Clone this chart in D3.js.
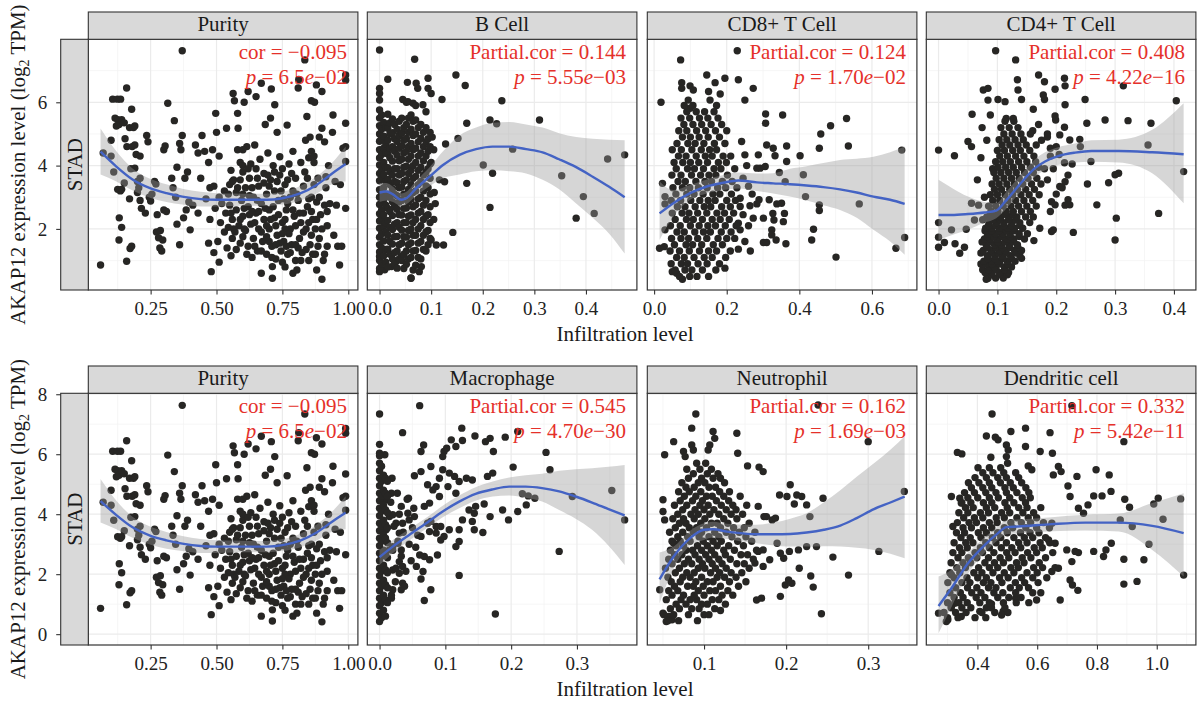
<!DOCTYPE html>
<html>
<head>
<meta charset="utf-8">
<script src="https://cdn.jsdelivr.net/npm/d3@7"></script>
<style>
body { margin: 0; background: #fff; }
</style>
</head>
<body>
<script>
// ---- data (x = infiltration level, y = AKAP12 log2 TPM) ----
var purityPts = [
[0.06,0.86],[0.07,4.4],[0.10,4.8],[0.10,4.3],[0.106,6.1],[0.124,6.1],[0.136,6.1],[0.159,6.45],
[0.115,5.5],[0.12,5.25],[0.125,5.45],[0.13,5.3],[0.14,5.45],[0.15,5.35],[0.17,5.2],[0.178,5.78],
[0.185,5.2],[0.19,5.25],[0.153,4.85],[0.16,4.6],[0.18,4.6],[0.19,4.65],[0.11,3.8],[0.125,3.25],
[0.135,3.2],[0.14,3.25],[0.15,3.45],[0.131,2.35],[0.14,2.05],[0.13,1.65],[0.159,0.98],[0.172,1.38],
[0.178,1.45],[0.17,2.95],[0.175,3.9],[0.19,3.92],[0.2,3.5],[0.205,3.3],[0.21,3.6],[0.2,3.15],
[0.195,4.35],[0.21,4.3],[0.21,2.9],[0.215,2.65],[0.23,2.5],[0.235,4.95],[0.24,4.75],[0.245,3.0],
[0.25,2.88],[0.255,3.1],[0.265,3.5],[0.27,3.42],[0.275,2.45],[0.272,1.9],[0.28,1.72],[0.285,1.4],
[0.287,1.95],[0.292,1.3],[0.296,1.65],[0.3,2.6],[0.3,4.5],[0.305,4.62],[0.31,2.55],[0.315,5.97],
[0.33,3.6],[0.335,3.3],[0.34,5.42],[0.345,3.0],[0.35,3.95],[0.35,2.15],[0.36,4.7],[0.36,1.5],
[0.365,4.5],[0.37,4.95],[0.37,7.63],[0.375,2.35],[0.38,3.6],[0.385,2.6],[0.39,3.8],[0.395,2.85],
[0.4,1.97],[0.41,2.75],[0.42,4.65],[0.43,4.4],[0.43,2.5],[0.44,3.6],[0.445,4.95],[0.455,4.45],
[0.46,2.95],[0.47,4.1],[0.47,1.55],[0.475,2.3],[0.475,3.3],[0.48,0.65],[0.485,4.5],[0.49,3.35],
[0.49,1.25],[0.495,2.65],[0.497,5.65],[0.5,5.05],[0.505,1.6],[0.51,0.95],[0.51,4.3],[0.51,3.0],
[0.515,2.2],[0.52,2.8],
[0.53,1.9],[0.53,3.2],[0.535,2.5],[0.538,5.18],[0.54,1.4],[0.545,2.05],[0.55,3.4],[0.55,2.75],
[0.555,1.15],[0.563,6.28],[0.56,2.3],[0.56,1.7],[0.565,3.55],[0.568,6.05],[0.57,1.9],[0.575,2.6],
[0.575,3.15],[0.58,5.65],[0.582,5.18],[0.58,4.5],[0.585,2.1],[0.59,4.1],[0.59,1.55],[0.595,2.9],
[0.6,3.8],[0.6,2.4],[0.6,1.75],[0.605,6.0],[0.61,3.3],[0.61,1.95],[0.615,4.6],[0.62,6.34],
[0.62,2.7],[0.62,1.45],[0.625,3.6],[0.63,2.15],[0.63,4.05],[0.635,1.1],[0.64,3.0],[0.64,1.7],
[0.645,4.65],[0.65,6.18],[0.65,2.5],[0.65,3.9],[0.655,1.3],[0.66,2.0],[0.66,3.35],[0.665,4.2],
[0.67,0.6],[0.67,6.6],[0.67,2.8],[0.675,1.6],[0.68,3.75],[0.68,2.3],[0.685,5.3],[0.69,1.2],
[0.69,3.1],[0.695,4.4],[0.7,2.0],[0.7,2.6],[0.705,5.5],[0.705,3.55],[0.712,0.44],[0.712,0.81],
[0.708,6.42],[0.71,1.45],[0.715,4.0],[0.721,5.92],[0.72,2.35],[0.72,3.2],[0.725,1.05],[0.73,5.05],
[0.73,1.8],[0.735,2.9],[0.74,4.28],[0.74,3.7],[0.745,1.3],[0.75,0.95],[0.75,2.2],[0.75,3.9],
[0.755,1.6],[0.76,0.8],[0.76,3.4],[0.768,5.28],[0.765,2.6],[0.77,1.2],[0.775,4.05],[0.78,2.0],
[0.78,3.0],[0.785,1.5],[0.79,0.6],[0.79,4.45],[0.795,2.4],[0.8,1.0],[0.8,3.6],[0.81,6.45],
[0.805,0.7],[0.812,6.72],[0.81,2.9],[0.815,1.7],[0.82,2.2],[0.82,4.1],[0.825,1.25],[0.83,3.35],
[0.835,7.34],[0.838,4.8],[0.84,2.0],[0.843,5.55],[0.845,2.7],[0.85,1.0],[0.85,4.25],[0.855,1.5],
[0.86,6.05],[0.86,3.0],[0.865,2.3],[0.872,6.0],[0.87,4.1],[0.879,6.55],[0.875,1.2],[0.88,2.85],
[0.88,0.7],[0.885,3.6],[0.89,1.7],[0.89,4.9],[0.895,2.45],[0.9,6.34],[0.9,5.18],[0.9,0.41],
[0.905,1.0],[0.91,4.75],[0.91,2.75],[0.915,3.3],[0.92,1.45],[0.92,2.1],[0.925,4.0],[0.93,2.8],
[0.942,5.6],[0.94,5.05],[0.945,1.8],[0.95,3.5],[0.955,2.75],[0.96,1.45],[0.967,0.86],[0.97,3.4],
[0.975,1.45],[0.98,4.55],[0.99,6.86],[0.99,6.7],[0.99,5.34],[0.99,4.6],[0.99,4.13],[0.99,2.65],
[0.86,4.45],[0.87,4.3],[0.855,4.9],[0.6,4.5],[0.6,4.0],[0.56,3.5],
[0.545,3.1],[0.555,2.5],[0.58,3.3],[0.59,2.3],[0.6,3.1],[0.605,2.0],[0.62,3.9],[0.625,2.45],
[0.635,3.3],[0.645,2.2],[0.655,2.9],[0.67,1.9],[0.68,3.45],[0.69,2.1],[0.695,3.7],[0.7,1.6],
[0.715,2.7],[0.725,2.1],[0.73,3.5],[0.74,1.55],[0.755,2.95],[0.76,2.0],[0.77,3.55],[0.775,1.85],
[0.79,3.2],[0.8,2.1],[0.81,1.4],[0.83,2.5],[0.845,3.6],[0.85,2.2],[0.86,1.8],[0.875,2.0],
[0.555,3.85],[0.565,2.0],[0.575,1.35],[0.59,3.55],[0.605,2.65],[0.615,1.2],[0.625,3.05],[0.635,2.55],
[0.645,1.45],[0.655,3.6],[0.66,2.55],[0.67,1.3],[0.685,2.65],[0.69,1.75],[0.7,3.35],[0.705,2.3],
[0.71,1.1],[0.72,3.8],[0.725,1.5],[0.735,2.45],[0.745,3.2],[0.75,1.85],[0.76,2.3],[0.765,1.45],
[0.77,2.8],[0.78,1.25],[0.785,3.75],[0.79,2.6],[0.8,1.5],[0.805,3.1],[0.815,2.5],[0.82,1.0],
[0.83,1.9],[0.835,3.8],[0.84,1.35],[0.85,2.95],[0.86,2.55],[0.865,1.2],[0.87,3.4],[0.88,2.3],
[0.885,1.45],[0.89,3.0],[0.9,2.0],[0.91,1.2],[0.915,3.65],[0.92,2.55]
];

var bcellPts = [
[0,7.65],[0.068,7.36],[0.016,6.73],[0.054,6.63],[0.071,6.6],[0.074,6.44],[0.094,6.76],[0.094,6.44],
[0.1,6.28],[0,6.44],[0,6.28],[0,6.07],[0.045,6.09],[0.055,6.02],[0.065,5.97],[0.084,5.92],
[0.121,6.09],[0.148,6.86],[0.166,6.53],[0.237,6.05],[0.214,5.44],[0.227,5.32],[0.31,5.44],[0.169,5.34],
[0.152,4.86],[0.128,4.68],[0.258,4.52],[0.201,4.02],[0.219,3.76],[0.169,3.44],[0.126,3.49],[0.116,3.55],
[0.106,3.15],[0.442,4.21],[0.475,4.34],[0.353,3.68],[0.395,3.02],[0.214,2.68],[0.381,2.34],[0.416,2.49],
[0.142,1.89],[0.124,1.49],[0.11,1.49],[0.1,1.65],[0.081,0.81],[0.077,0.65],[0.061,0.44],[0,0.65],
[0.01,0.71],[0.023,0.81],[0,1.13],[0.042,1.13],[0.032,0.97],[0.102,4.9],[0.105,4.5],[0.1,4.1],
[0.108,2.8],[0.105,2.3]
];
// dense column near zero, as [x, [y values]]
var bcellDense = [
[0,[0.75,1.0,1.27,1.5,1.74,2.02,2.25,2.48,2.77,3.0,3.24,3.52,3.75,4.02,4.24,4.5,4.77,5.0,5.26,5.5,5.76]],
[0.004,[0.9,1.4,1.85,2.35,2.6,3.15,3.6,3.85,4.35,4.85,5.15,5.6]],
[0.008,[1.15,1.62,2.08,2.45,2.92,3.3,3.72,4.1,4.55,4.93,5.36]],
[0.012,[0.95,1.35,1.9,2.2,2.75,3.05,3.5,3.95,4.4,4.7,5.2]],
[0.016,[0.8,1.36,1.8,2.27,2.65,3.1,3.56,3.93,4.37,4.8,5.18,5.62]],
[0.02,[1.2,1.6,2.05,2.55,3.0,3.4,3.8,4.25,4.55,5.0,5.35]],
[0.025,[1.05,1.52,1.98,2.42,2.86,3.27,3.7,4.14,4.6,5.04,5.47]],
[0.029,[0.9,1.25,1.75,2.15,2.7,3.1,3.5,3.9,4.45,4.85,5.3]],
[0.034,[0.76,1.3,1.76,2.2,2.62,3.05,3.46,3.9,4.33,4.76,5.15]],
[0.038,[1.05,1.5,2.05,2.45,2.85,3.3,3.7,4.15,4.55,4.95,5.4]],
[0.043,[1.0,1.55,1.96,2.44,2.9,3.32,3.75,4.2,4.62,5.02,5.5]],
[0.047,[0.75,1.2,1.75,2.2,2.65,3.1,3.5,3.95,4.4,4.8,5.2]],
[0.052,[0.88,1.3,1.74,2.2,2.66,3.1,3.55,3.98,4.45,4.86,5.3,6.0]],
[0.056,[1.05,1.5,1.95,2.4,2.85,3.25,3.75,4.2,4.6,5.05,5.5]],
[0.061,[0.45,1.1,1.56,2.0,2.44,2.94,3.4,3.85,4.3,4.7,5.15,5.6]],
[0.065,[0.7,1.3,1.8,2.2,2.7,3.15,3.6,4.0,4.5,4.95,5.4]],
[0.07,[0.85,1.32,1.8,2.3,2.76,3.2,3.66,4.1,4.55,5.0,5.44,5.9]],
[0.075,[1.1,1.55,2.0,2.5,2.95,3.4,3.85,4.3,4.75,5.2]],
[0.08,[1.05,1.6,2.1,2.55,3.0,3.5,3.95,4.4,4.86,5.3]],
[0.085,[1.35,1.8,2.3,2.75,3.2,3.7,4.15,4.6,5.05]],
[0.09,[1.3,1.9,2.4,2.9,3.36,3.8,4.3,4.75,5.2,5.7]],
[0.094,[1.5,1.95,2.45,3.3,3.9,4.45,4.85]],
[0.098,[1.7,2.2,2.7,3.1,3.6,4.05,4.6,5.05]]
];

var cd8Pts = [
[0.229,7.63],[0.073,7.34],[0.019,6.0],[0.145,6.86],[0.168,6.62],[0.195,6.76],[0.232,6.71],[0.273,6.44],
[0.076,6.62],[0.076,6.44],[0.099,6.52],[0.108,6.39],[0.182,6.26],[0.15,6.34],[0.154,6.07],[0.25,6.07],
[0.094,6.07],[0.099,5.81],[0.307,5.63],[0.307,5.34],[0.354,5.6],[0.53,5.49],[0.486,5.26],[0.459,5.0],
[0.535,4.62],[0.455,4.55],[0.682,4.49],[0.402,4.31],[0.365,4.62],[0.365,4.13],[0.31,4.65],[0.328,4.55],
[0.333,4.31],[0.287,4.34],[0.25,4.34],[0.241,4.76],[0.283,3.92],[0.292,3.92],[0.306,3.97],[0.345,3.78],
[0.411,3.71],[0.361,3.49],[0.417,3.02],[0.565,2.79],[0.455,2.76],[0.455,2.58],[0.237,2.97],[0.237,2.71],
[0.264,2.73],[0.283,2.79],[0.289,2.92],[0.317,2.92],[0.338,2.79],[0.351,2.81],[0.327,2.49],[0.359,2.49],
[0.273,2.34],[0.301,2.34],[0.33,2.28],[0.324,1.97],[0.356,2.23],[0.232,2.18],[0.237,1.97],[0.439,1.99],
[0.434,1.65],[0.324,1.81],[0.336,1.65],[0.301,1.57],[0.31,1.57],[0.363,1.53],[0.501,1.11],[0.666,1.39],
[0.69,1.73],[0.195,0.76],[0.232,1.36],[0.078,0.41],[0.05,0.65],[0.062,0.6],[0.015,1.39],[0.028,1.44],
[0.023,3.44],[0.03,3.02],[0.03,2.79],[0.03,1.97],
[0.245,3.6],[0.26,3.35],[0.255,4.0],[0.27,3.1],[0.245,2.45],[0.26,2.1],[0.25,1.6],[0.265,1.3]
];
// dense cloud, as [y, [x values]]
var cd8Dense = [
[0.5,[0.07,0.098,0.118,0.15]],
[0.7,[0.058,0.085,0.104,0.133,0.17]],
[0.9,[0.047,0.075,0.092,0.121,0.146,0.18]],
[1.1,[0.062,0.083,0.11,0.138,0.16,0.197]],
[1.3,[0.044,0.07,0.097,0.125,0.15,0.172,0.21]],
[1.5,[0.056,0.088,0.106,0.131,0.163,0.188]],
[1.7,[0.048,0.074,0.095,0.12,0.145,0.176,0.2,0.222]],
[1.9,[0.063,0.083,0.112,0.136,0.155,0.185,0.212]],
[2.1,[0.045,0.072,0.1,0.124,0.148,0.169,0.196,0.226]],
[2.3,[0.058,0.089,0.108,0.133,0.16,0.182,0.207]],
[2.5,[0.05,0.077,0.096,0.12,0.145,0.173,0.194,0.219]],
[2.7,[0.064,0.085,0.113,0.138,0.156,0.186,0.21]],
[2.9,[0.047,0.073,0.101,0.126,0.149,0.168,0.2,0.224]],
[3.1,[0.06,0.09,0.11,0.135,0.162,0.181,0.213]],
[3.3,[0.052,0.078,0.098,0.122,0.146,0.175,0.197,0.228]],
[3.5,[0.066,0.086,0.115,0.14,0.158,0.188,0.215]],
[3.7,[0.049,0.074,0.103,0.128,0.151,0.17,0.202]],
[3.9,[0.061,0.092,0.111,0.136,0.165,0.184,0.222]],
[4.1,[0.055,0.079,0.1,0.123,0.147,0.177,0.199]],
[4.3,[0.067,0.088,0.116,0.141,0.16,0.19,0.211]],
[4.5,[0.05,0.075,0.104,0.13,0.153,0.172]],
[4.7,[0.063,0.093,0.113,0.137,0.166,0.195]],
[4.9,[0.078,0.1,0.124,0.149,0.18]],
[5.1,[0.068,0.09,0.117,0.142,0.169,0.2]],
[5.3,[0.082,0.107,0.131,0.157,0.186]],
[5.5,[0.074,0.098,0.125,0.148,0.176]],
[5.7,[0.09,0.116,0.139,0.165]],
[5.9,[0.083,0.107,0.172]]
];

var cd4Pts = [
[0.097,7.63],[0.131,7.34],[0,4.49],[0.027,4.31],[0,2.2],[0,1.74],[0,1.42],[0.01,1.57],
[0.022,1.97],[0.028,1.53],[0.036,1.23],[0.044,1.42],[0.047,1.99],[0.061,2.28],[0.056,2.81],[0.05,4.76],
[0.056,4.6],[0.057,5.62],[0.076,6.39],[0.084,6.44],[0.084,6.07],[0.101,6.09],[0.113,6.02],[0.134,6.71],
[0.135,6.39],[0.141,6.09],[0.115,5.49],[0.127,5.49],[0.161,5.78],[0.17,6.86],[0.18,6.65],[0.178,6.23],
[0.18,6.09],[0.198,6.41],[0.214,6.76],[0.215,6.52],[0.198,5.57],[0.199,5.44],[0.215,5.92],[0.249,6.09],
[0.252,5.34],[0.283,5.44],[0.322,5.42],[0.314,6.52],[0.361,5.34],[0.356,4.65],[0.404,6.05],[0.4165,3.81],
[0.214,5.21],[0.206,4.97],[0.223,4.81],[0.24,4.83],[0.241,4.6],[0.214,4.09],[0.227,4.05],[0.259,4.13],
[0.306,3.76],[0.3,3.71],[0.289,3.46],[0.253,3.42],[0.269,2.76],[0.302,2.34],[0.3,1.65],[0.374,2.49],
[0.229,1.89],[0.192,1.92],[0.195,1.97],[0.22,2.92],[0.223,2.76],[0.206,3.34],[0.215,3.49],[0.192,2.86],
[0.198,2.76],[0.162,1.63],[0.172,2.02],[0.141,1.07],[0.114,0.6],[0.081,0.41],[0.084,0.44],
[0.16,5.1],[0.17,5.3],[0.175,4.8],[0.185,5.0],[0.19,4.3],[0.2,4.6],[0.18,3.9],
[0.185,3.55],[0.19,2.55],[0.2,3.1],[0.205,4.35],[0.19,4.55],[0.215,2.75],[0.22,3.7],[0.185,4.9],
[0.195,3.9],[0.21,3.3],
[0.066,3.55],[0.072,4.25],[0.078,3.0],[0.068,2.75],[0.082,4.8],[0.074,5.2],[0.088,5.6],[0.092,3.9]
];
var cd4Dense = [
[0.45,[0.083,0.097,0.11]],
[0.55,[0.09,0.104,0.117]],
[0.62,[0.079,0.091,0.104,0.119]],
[0.71,[0.075,0.085,0.098,0.112]],
[0.8,[0.086,0.095,0.112,0.124]],
[0.89,[0.072,0.081,0.091,0.104,0.118]],
[0.98,[0.077,0.09,0.101,0.117,0.13]],
[1.06,[0.084,0.096,0.11,0.124]],
[1.15,[0.083,0.096,0.108,0.122,0.138]],
[1.24,[0.072,0.09,0.102,0.115,0.131]],
[1.32,[0.076,0.089,0.103,0.113,0.129,0.141]],
[1.41,[0.083,0.097,0.108,0.121,0.135]],
[1.5,[0.081,0.095,0.107,0.12,0.134]],
[1.59,[0.074,0.088,0.101,0.113,0.127]],
[1.68,[0.078,0.088,0.1,0.116,0.128,0.146]],
[1.76,[0.083,0.094,0.108,0.122,0.137]],
[1.85,[0.084,0.097,0.109,0.121,0.137,0.151]],
[1.94,[0.079,0.09,0.103,0.115,0.129]],
[2.02,[0.08,0.091,0.104,0.118,0.129,0.143]],
[2.11,[0.085,0.097,0.111,0.124,0.138]],
[2.2,[0.086,0.099,0.111,0.125,0.138,0.155]],
[2.29,[0.075,0.093,0.105,0.119,0.131]],
[2.38,[0.082,0.094,0.106,0.12,0.133,0.148,0.161]],
[2.46,[0.088,0.1,0.113,0.126]],
[2.55,[0.089,0.101,0.115,0.127,0.141,0.156]],
[2.72,[0.085,0.097,0.11,0.123,0.136,0.15,0.166]],
[2.9,[0.092,0.104,0.118,0.131,0.145,0.16]],
[3.08,[0.088,0.1,0.113,0.126,0.14,0.154,0.171]],
[3.25,[0.095,0.107,0.121,0.134,0.148,0.163]],
[3.42,[0.091,0.103,0.116,0.129,0.143,0.158,0.174]],
[3.6,[0.098,0.111,0.124,0.137,0.152,0.167]],
[3.78,[0.094,0.106,0.119,0.132,0.146,0.161]],
[3.95,[0.101,0.114,0.127,0.141,0.156,0.17]],
[4.12,[0.097,0.109,0.122,0.136,0.15,0.165]],
[4.3,[0.104,0.117,0.131,0.145,0.162]],
[4.48,[0.1,0.112,0.126,0.139,0.155]],
[4.65,[0.108,0.121,0.135,0.149,0.166]],
[4.82,[0.103,0.116,0.13,0.144]],
[5.0,[0.111,0.125,0.14,0.156]],
[5.2,[0.106,0.12,0.135]],
[5.4,[0.113,0.128]]
];

var macroPts = [
[0.061,7.62],[0,7.34],[0.035,6.72],[0.008,5.98],[0.125,6.87],[0.109,6.48],[0.116,6.26],[0.126,6.46],
[0.145,6.61],[0.161,6.42],[0.168,6.53],[0.191,6.57],[0.21,6.76],[0.173,6.09],[0.253,6.06],[0.259,5.48],
[0.203,5.57],[0.172,5.37],[0.164,5.26],[0.067,6.31],[0.063,6.09],[0.098,6.09],[0.096,5.92],[0.102,6.2],
[0.053,5.28],[0.063,5.42],[0.078,5.59],[0.019,5.2],[0.044,4.53],[0.091,5.2],[0.096,5.48],[0.106,5.37],
[0.114,5.26],[0.121,5.09],[0.132,5.2],[0.141,5.14],[0.086,4.92],[0.104,4.92],[0.073,4.98],[0.081,4.81],
[0.068,4.26],[0.076,4.37],[0.091,4.59],[0.116,4.7],[0.159,4.34],[0.146,4.26],[0.144,4.03],[0.136,4.14],
[0.187,4.14],[0.168,3.92],[0.196,3.81],[0.21,4.09],[0.223,4.31],[0.217,4.68],[0.226,4.61],[0.236,4.53],
[0.293,4.59],[0.353,4.79],[0.3725,3.81],[0.273,2.76],[0.176,0.67],[0.121,1.96],[0.157,3.39],[0.141,3.76],
[0.144,3.48],[0.126,3.81],[0.121,3.48],[0.116,2.92],[0.121,3.09],[0.093,3.14],[0.098,3.26],[0.086,3.59],
[0.093,3.59],[0.106,3.48],[0.063,3.26],[0.076,3.42],[0.086,3.37],[0.073,3.7],[0.078,3.76],[0.053,3.92],
[0.033,4.26],[0.043,4.03],[0.035,3.7],[0.045,3.81],[0.061,2.64],[0.068,2.59],[0.076,2.48],[0.088,2.64],
[0.056,2.26],[0.066,2.09],[0.063,1.84],[0.078,1.48],[0.068,1.12],[0.03,2.42],[0.035,2.26],[0.02,2.14],
[0.03,2.03],[0.035,1.7],[0.033,1.48],[0.02,1.48],[0.018,1.2],[0.008,2.7],[0.015,2.81],[0.02,3.98],
[0.025,3.7],[0.03,3.37],[0.028,3.03],[0.033,2.81],[0.02,2.92],[0.01,4.48],[0.018,4.7],[0.015,3.92],
[0.01,3.48],
[0.018,1.3],[0.02,2.8],[0.022,3.6],[0.017,4.4],[0.025,2.2],[0.028,3.1],[0.03,4.0],[0.024,1.75],
[0.027,4.7],[0.033,2.6],[0.036,3.4],[0.04,2.1],[0.038,1.6],[0.045,3.0],[0.048,2.45],[0.042,4.5],
[0.05,3.55],[0.055,2.9],[0.052,4.2],[0.058,3.3],[0,6.33],[0,6.03]
];
// dense column at zero, as [x, [y values]]
var macroDense = [
[0,[0.42,0.7,0.95,1.2,1.45,1.7,1.95,2.2,2.45,2.7,2.95,3.2,3.45,3.7,3.95,4.2,4.45,4.7,4.95,5.2,5.45,5.7,5.95]],
[0.003,[0.55,1.05,1.6,2.1,2.6,3.1,3.6,4.1,4.6,5.1,5.6]],
[0.006,[0.8,1.3,1.8,2.3,2.8,3.3,3.8,4.3,4.8,5.3]],
[0.009,[0.6,1.15,1.65,2.15,2.65,3.2,3.65,4.15,4.7,5.2]],
[0.012,[1.05,1.55,2.05,2.55,3.05,3.55,4.05,4.6,5.1]]
];

var neutroPts = [
[0.09,7.34],[0.239,7.64],[0.3,6.42],[0.085,6.87],[0.063,6.42],[0.052,5.98],[0.075,6.09],[0.077,5.92],
[0.085,6.31],[0.087,6.14],[0.111,6.76],[0.113,6.53],[0.107,6.31],[0.105,6.14],[0.14,6.7],[0.141,6.03],
[0.153,5.61],[0.167,5.57],[0.172,5.42],[0.205,4.98],[0.192,4.64],[0.201,4.59],[0.213,4.64],[0.219,4.59],
[0.21,4.34],[0.225,4.31],[0.245,4.53],[0.229,3.92],[0.344,4.76],[0.313,2.76],[0.257,2.57],[0.276,1.97],
[0.243,0.68],[0.233,1.57],[0.23,1.94],[0.216,2.2],[0.207,1.7],[0.199,1.64],[0.203,1.81],[0.193,1.26],
[0.164,1.14],[0.17,1.2],[0.12,0.79],[0.225,2.92],[0.237,2.92],[0.215,2.81],[0.204,2.76],[0.197,2.53],
[0.189,3.03],[0.193,2.7],[0.18,2.48],[0.183,3.81],[0.187,3.87],[0.173,3.92],[0.176,3.92],[0.166,4.26],
[0.172,2.81],[0.166,2.76],[0.162,2.37],[0.172,2.26],[0.046,1.48],[0.05,0.7],[0.057,0.59],[0.061,0.48],
[0.054,0.42],[0.05,4.48],[0.05,4.09],[0.052,3.81],[0.063,3.03]
];
// dense cloud, as [y, [x values]]
var neutroDense = [
[0.45,[0.056,0.069,0.092]],
[0.65,[0.051,0.063,0.081,0.1,0.106]],
[0.85,[0.059,0.07,0.085,0.094,0.113]],
[1.0,[0.066,0.078,0.097,0.104,0.126]],
[1.15,[0.054,0.072,0.083,0.091,0.11,0.118]],
[1.3,[0.061,0.075,0.088,0.1,0.122,0.135]],
[1.45,[0.057,0.068,0.093,0.107,0.114,0.129]],
[1.6,[0.064,0.08,0.087,0.099,0.12,0.142]],
[1.75,[0.06,0.071,0.09,0.104,0.111,0.131,0.151]],
[1.9,[0.056,0.074,0.083,0.097,0.116,0.125,0.139]],
[2.05,[0.065,0.079,0.088,0.108,0.119,0.133,0.146]],
[2.2,[0.053,0.07,0.093,0.101,0.114,0.127,0.155]],
[2.35,[0.061,0.076,0.085,0.098,0.11,0.122,0.14,0.149]],
[2.5,[0.057,0.068,0.081,0.094,0.106,0.118,0.132,0.16]],
[2.65,[0.064,0.073,0.089,0.102,0.113,0.126,0.145,0.153]],
[2.8,[0.059,0.078,0.086,0.097,0.109,0.124,0.137,0.164]],
[2.95,[0.066,0.075,0.092,0.104,0.116,0.13,0.148]],
[3.1,[0.061,0.071,0.083,0.099,0.111,0.121,0.141,0.158]],
[3.25,[0.068,0.08,0.094,0.106,0.118,0.134,0.151]],
[3.4,[0.058,0.074,0.087,0.097,0.113,0.127,0.143,0.162]],
[3.55,[0.065,0.082,0.091,0.103,0.12,0.136,0.149]],
[3.7,[0.07,0.078,0.096,0.109,0.116,0.129,0.155]],
[3.85,[0.062,0.075,0.088,0.101,0.124,0.14]],
[4.0,[0.068,0.084,0.093,0.107,0.118,0.133,0.147]],
[4.15,[0.074,0.089,0.1,0.112,0.127,0.139]],
[4.3,[0.064,0.079,0.095,0.105,0.121,0.135,0.152]],
[4.45,[0.071,0.086,0.098,0.115,0.13]],
[4.6,[0.076,0.09,0.103,0.11,0.124,0.144]],
[4.75,[0.069,0.082,0.096,0.119,0.131]],
[4.9,[0.078,0.088,0.106,0.114]],
[5.05,[0.073,0.093,0.101,0.125]],
[5.2,[0.081,0.097,0.111,0.12]],
[5.35,[0.087,0.104,0.117]],
[5.5,[0.079,0.095,0.109]],
[5.7,[0.091,0.102]]
];

var dendPts = [
[0.449,7.34],[0.716,7.62],[0.89,6.42],[0.561,6.87],[0.512,6.76],[0.43,6.61],[0.46,6.57],[0.469,6.48],
[0.643,6.72],[0.333,6.06],[0.348,6.01],[0.561,6.26],[0.61,6.09],[0.651,6.03],[0.497,6.31],[0.503,6.14],
[0.497,5.92],[0.445,5.9],[0.501,5.7],[0.57,5.61],[0.582,5.48],[0.671,5.59],[0.68,5.42],[0.654,5.31],
[0.733,5.26],[0.797,5.48],[0.841,5.31],[0.703,4.94],[0.847,4.76],[0.789,4.61],[0.817,4.61],[0.71,4.59],
[0.893,4.5],[0.909,4.23],[1.005,4.53],[0.99,4.34],[1.08,4.51],[1.021,3.83],[0.918,3.59],[0.974,3.0],
[0.878,3.81],[1.09,1.97],[0.934,1.76],[0.89,1.67],[0.957,2.48],[0.89,2.5],[0.848,3.03],[0.83,2.81],
[0.822,2.59],[0.789,2.76],[0.77,4.31],[0.738,4.2],[0.755,4.03],[0.738,2.72],[0.736,1.46],[0.718,1.64],
[0.71,1.81],[0.677,1.14],[0.598,1.14],[0.528,1.2],[0.486,0.76],[0.481,0.64],[0.447,1.01],[0.408,0.76],
[0.346,0.59],[0.301,0.48],[0.296,0.42],[0.27,0.7],[0.313,0.92],[0.324,1.03],[0.313,4.59],[0.341,4.53],
[0.346,4.37],[0.318,3.59],[0.313,1.98],[0.699,2.81],[0.727,2.76],[0.716,2.42],[0.671,2.2],[0.649,2.09],
[0.649,3.7],[0.638,3.14],[0.66,3.03]
];
var dendDense = [
[0.55,[0.3,0.335,0.392,0.428]],
[0.72,[0.288,0.327,0.362,0.415,0.458,0.502]],
[0.88,[0.312,0.348,0.378,0.43,0.447,0.492]],
[1.05,[0.3,0.338,0.366,0.408,0.44,0.487,0.53,0.572]],
[1.22,[0.322,0.352,0.396,0.425,0.468,0.505,0.546]],
[1.38,[0.308,0.343,0.381,0.412,0.455,0.485,0.528,0.585,0.612]],
[1.55,[0.327,0.367,0.398,0.437,0.462,0.51,0.54,0.571]],
[1.72,[0.301,0.348,0.375,0.42,0.445,0.482,0.527,0.558,0.603]],
[1.88,[0.322,0.365,0.401,0.43,0.474,0.503,0.548,0.585,0.632]],
[2.05,[0.308,0.341,0.388,0.415,0.452,0.49,0.522,0.566,0.6]],
[2.22,[0.331,0.36,0.404,0.44,0.468,0.512,0.537,0.588,0.618,0.66]],
[2.38,[0.312,0.352,0.377,0.425,0.457,0.487,0.531,0.556,0.607]],
[2.55,[0.335,0.37,0.398,0.437,0.476,0.505,0.55,0.579,0.628]],
[2.72,[0.318,0.348,0.392,0.417,0.455,0.498,0.526,0.568,0.598,0.652]],
[2.88,[0.34,0.366,0.41,0.44,0.48,0.515,0.545,0.59,0.617]],
[3.05,[0.322,0.361,0.385,0.428,0.462,0.497,0.538,0.566,0.61,0.642]],
[3.22,[0.345,0.376,0.412,0.45,0.478,0.522,0.557,0.585,0.628]],
[3.38,[0.33,0.357,0.403,0.43,0.468,0.5,0.544,0.576,0.606]],
[3.55,[0.352,0.38,0.42,0.448,0.49,0.518,0.562,0.598,0.641]],
[3.72,[0.333,0.372,0.397,0.44,0.466,0.512,0.547,0.578,0.621]],
[3.88,[0.354,0.39,0.418,0.463,0.49,0.532,0.57,0.598]],
[4.05,[0.338,0.368,0.41,0.437,0.481,0.508,0.552,0.588]],
[4.22,[0.36,0.386,0.43,0.458,0.5,0.538,0.566,0.612]],
[4.38,[0.348,0.378,0.42,0.448,0.492,0.522,0.561]],
[4.55,[0.368,0.401,0.44,0.47,0.508,0.55,0.577]],
[4.72,[0.357,0.39,0.428,0.462,0.497,0.532,0.572]],
[4.88,[0.38,0.418,0.448,0.492,0.52,0.562]],
[5.05,[0.37,0.405,0.44,0.477,0.51,0.548]],
[5.22,[0.392,0.43,0.468,0.497,0.538]],
[5.38,[0.418,0.452,0.488,0.528]],
[5.55,[0.402,0.44,0.478]]
];

// loess fit: [x, fit, lower, upper]
var purityFit = [[0.06,4.44,3.72,5.17],[0.12,3.97,3.5,4.45],[0.18,3.57,3.22,3.92],[0.25,3.28,2.98,3.58],
  [0.31,3.13,2.85,3.41],[0.37,3.02,2.77,3.27],[0.44,2.94,2.71,3.17],[0.5,2.92,2.71,3.13],[0.56,2.92,2.72,3.12],
  [0.63,2.92,2.73,3.11],[0.69,2.92,2.73,3.11],[0.75,2.97,2.77,3.17],[0.82,3.13,2.9,3.36],[0.88,3.39,3.12,3.66],
  [0.94,3.76,3.42,4.1],[0.99,4.05,3.5,4.6]];
var bcellFit = [[0,3.15,2.85,3.45],[0.013,3.18,2.9,3.45],[0.026,3.09,2.85,3.33],[0.042,2.92,2.72,3.12],
  [0.052,2.97,2.78,3.17],[0.071,3.28,3.05,3.52],[0.097,3.65,3.35,3.95],[0.123,4.02,3.6,4.45],[0.155,4.34,3.72,4.95],
  [0.187,4.52,3.82,5.2],[0.219,4.6,3.85,5.35],[0.252,4.6,3.82,5.38],[0.284,4.52,3.75,5.3],[0.316,4.42,3.55,5.2],
  [0.348,4.2,3.25,5.02],[0.381,3.95,2.8,4.9],[0.413,3.65,2.35,4.85],[0.445,3.33,1.85,4.82],[0.475,3.0,1.22,4.8]];
var cd8Fit = [[0.015,2.49,1.65,3.5],[0.053,2.81,2.39,3.23],[0.099,3.13,2.92,3.39],[0.145,3.34,3.12,3.56],
  [0.191,3.46,3.23,3.7],[0.232,3.53,3.28,3.78],[0.283,3.47,3.2,3.75],[0.328,3.44,3.12,3.76],[0.374,3.41,3.02,3.9],
  [0.42,3.37,2.9,3.98],[0.466,3.32,2.75,4.08],[0.512,3.25,2.6,4.18],[0.558,3.15,2.35,4.22],[0.604,3.02,1.97,4.28],
  [0.65,2.92,1.6,4.42],[0.69,2.79,1.18,4.6]];
var cd4Fit = [[0,2.44,1.65,3.55],[0.022,2.44,1.8,3.3],[0.05,2.47,1.97,3.02],[0.078,2.52,2.2,2.85],
  [0.098,2.58,2.34,2.81],[0.113,2.86,2.6,3.12],[0.13,3.23,2.98,3.5],[0.147,3.6,3.33,3.87],[0.164,3.92,3.65,4.2],
  [0.181,4.13,3.85,4.42],[0.203,4.3,4.02,4.58],[0.232,4.41,4.1,4.7],[0.26,4.46,4.12,4.8],[0.306,4.46,4.1,4.82],
  [0.363,4.42,3.76,5.13],[0.4165,4.36,2.81,5.97]];
var macroFit = [[0,2.57,2.31,2.81],[0.02,2.92,2.7,3.14],[0.045,3.31,3.12,3.5],[0.071,3.7,3.52,3.88],
  [0.096,4.09,3.9,4.28],[0.121,4.42,4.2,4.62],[0.146,4.68,4.45,4.9],[0.172,4.83,4.59,5.09],[0.197,4.92,4.62,5.22],
  [0.222,4.92,4.55,5.3],[0.247,4.87,4.42,5.35],[0.273,4.76,4.14,5.45],[0.298,4.59,3.85,5.5],[0.323,4.39,3.48,5.53],
  [0.348,4.17,2.95,5.58],[0.3725,3.96,2.31,5.64]];
var neutroFit = [[0.0458,1.83,1.03,2.72],[0.063,2.59,2.2,2.92],[0.083,3.2,2.95,3.45],[0.1,3.48,3.14,3.7],
  [0.111,3.5,3.22,3.75],[0.128,3.42,3.17,3.68],[0.144,3.37,3.1,3.66],[0.164,3.33,3.03,3.65],[0.185,3.33,2.96,3.72],
  [0.205,3.34,2.92,3.85],[0.225,3.39,2.92,4.03],[0.246,3.48,2.93,4.4],[0.266,3.62,2.92,4.8],[0.286,3.87,2.88,5.25],
  [0.307,4.17,2.81,5.7],[0.327,4.39,2.68,6.15],[0.3444,4.59,2.53,6.59]];
var dendFit = [[0.27,0.94,0.03,1.92],[0.313,1.53,0.9,2.15],[0.369,2.37,2.02,2.72],[0.425,2.98,2.72,3.24],
  [0.469,3.37,3.14,3.6],[0.497,3.57,3.33,3.8],[0.537,3.59,3.36,3.82],[0.649,3.67,3.43,3.9],[0.761,3.72,3.46,3.98],
  [0.873,3.72,3.42,4.02],[0.985,3.61,2.81,4.37],[1.09,3.37,1.92,4.7]];

// data ranges and axis ticks
var purityXLim = [0.06, 0.99], bcellXLim = [0, 0.475], cd8XLim = [0.015, 0.69], cd4XLim = [0, 0.4165];
var macroXLim = [0, 0.3725], neutroXLim = [0.0458, 0.3444], dendXLim = [0.27, 1.09];
var yLims = [[0.43, 7.63], [0.02, 7.65]];

var purityTicks = [0.25, 0.5, 0.75, 1.0], purityTickLabels = ["0.25", "0.50", "0.75", "1.00"];
var bcellTicks = [0, 0.1, 0.2, 0.3, 0.4], cd4Ticks = [0, 0.1, 0.2, 0.3, 0.4];
var cd8Ticks = [0, 0.2, 0.4, 0.6], macroTicks = [0, 0.1, 0.2, 0.3];
var neutroTicks = [0.1, 0.2, 0.3], dendTicks = [0.4, 0.6, 0.8, 1.0];
var yTicks = [[2, 4, 6], [0, 2, 4, 6, 8]];

var panelNames = ["Purity", "B Cell", "CD8+ T Cell", "CD4+ T Cell", "Purity", "Macrophage", "Neutrophil", "Dendritic cell"];
var corLabels = ["cor = \u22120.095", "Partial.cor = 0.144", "Partial.cor = 0.124", "Partial.cor = 0.408",
                 "cor = \u22120.095", "Partial.cor = 0.545", "Partial.cor = 0.162", "Partial.cor = 0.332"];
var pMantissa = ["6.5", "5.55", "1.70", "4.22", "6.5", "4.70", "1.69", "5.42"];
var pExponent = ["02", "03", "02", "16", "02", "30", "03", "11"];

// [x, [y...]] columns -> [x, y] points
function unpackCols(cols) {
  var out = [];
  cols.forEach(function(c) {
    c[1].forEach(function(v) { out.push([c[0], v]); });
  });
  return out;
}
// [y, [x...]] rows -> [x, y] points
function unpackRows(rows) {
  var out = [];
  rows.forEach(function(r) {
    r[1].forEach(function(v) { out.push([v, r[0]]); });
  });
  return out;
}

var panels = [
  {pts: purityPts, fit: purityFit, xLim: purityXLim, ticks: purityTicks, labels: purityTickLabels},
  {pts: bcellPts.concat(unpackCols(bcellDense)), fit: bcellFit, xLim: bcellXLim, ticks: bcellTicks},
  {pts: cd8Pts.concat(unpackRows(cd8Dense)), fit: cd8Fit, xLim: cd8XLim, ticks: cd8Ticks},
  {pts: cd4Pts.concat(unpackRows(cd4Dense)), fit: cd4Fit, xLim: cd4XLim, ticks: cd4Ticks},
  {pts: purityPts, fit: purityFit, xLim: purityXLim, ticks: purityTicks, labels: purityTickLabels},
  {pts: macroPts.concat(unpackCols(macroDense)), fit: macroFit, xLim: macroXLim, ticks: macroTicks},
  {pts: neutroPts.concat(unpackRows(neutroDense)), fit: neutroFit, xLim: neutroXLim, ticks: neutroTicks},
  {pts: dendPts.concat(unpackRows(dendDense)), fit: dendFit, xLim: dendXLim, ticks: dendTicks}
];

// ---- layout ----
var font = "'Liberation Serif', 'Times New Roman', serif";
var colLeft = [88.3, 367.3, 647.3, 926.3], panelW = 269.6;
var rowTop = [39.3, 393.3], rowBot = [290, 645], stripH = 27.3;
var stadLeft = 60.7;

var svg = d3.select("body").append("svg")
    .attr("width", 1201)
    .attr("height", 705)
    .style("font-family", font);

// ggplot-style 5% expansion of the data range
function expand(lim) {
  var r = lim[1] - lim[0];
  return [lim[0] - 0.05 * r, lim[1] + 0.05 * r];
}

function minorBreaks(ticks, domain) {
  var step = ticks[1] - ticks[0], out = [];
  for (var m = ticks[0] - step / 2; m < domain[1]; m += step) {
    if (m > domain[0]) out.push(m);
  }
  return out;
}

panels.forEach(function(p, i) {
  var row = i < 4 ? 0 : 1, col = i % 4;
  var left = colLeft[col], right = left + panelW, top = rowTop[row], bot = rowBot[row];

  var x = d3.scaleLinear().domain(expand(p.xLim)).range([left, right]);
  var y = d3.scaleLinear().domain(expand(yLims[row])).range([bot, top]);

  var g = svg.append("g");

  g.append("clipPath").attr("id", "clip" + i)
    .append("rect")
      .attr("x", left).attr("y", top)
      .attr("width", panelW).attr("height", bot - top);

  // grid lines
  var grid = g.append("g").attr("clip-path", "url(#clip" + i + ")");
  minorBreaks(p.ticks, x.domain()).forEach(function(v) {
    grid.append("line").attr("x1", x(v)).attr("x2", x(v)).attr("y1", top).attr("y2", bot)
      .attr("stroke", "#f2f2f2").attr("stroke-width", 0.7);
  });
  minorBreaks(yTicks[row], y.domain()).forEach(function(v) {
    grid.append("line").attr("x1", left).attr("x2", right).attr("y1", y(v)).attr("y2", y(v))
      .attr("stroke", "#f2f2f2").attr("stroke-width", 0.7);
  });
  p.ticks.forEach(function(v) {
    grid.append("line").attr("x1", x(v)).attr("x2", x(v)).attr("y1", top).attr("y2", bot)
      .attr("stroke", "#ebebeb").attr("stroke-width", 1.2);
  });
  yTicks[row].forEach(function(v) {
    grid.append("line").attr("x1", left).attr("x2", right).attr("y1", y(v)).attr("y2", y(v))
      .attr("stroke", "#ebebeb").attr("stroke-width", 1.2);
  });

  // points
  g.append("g").attr("clip-path", "url(#clip" + i + ")")
    .selectAll("circle")
    .data(p.pts)
    .join("circle")
      .attr("cx", function(d) { return x(d[0]); })
      .attr("cy", function(d) { return y(d[1]); })
      .attr("r", 3.7)
      .attr("fill", "#272624");

  // confidence band and smooth line
  var band = d3.area()
      .x(function(d) { return x(d[0]); })
      .y0(function(d) { return y(d[2]); })
      .y1(function(d) { return y(d[3]); })
      .curve(d3.curveMonotoneX);
  var line = d3.line()
      .x(function(d) { return x(d[0]); })
      .y(function(d) { return y(d[1]); })
      .curve(d3.curveMonotoneX);

  g.append("path").datum(p.fit)
    .attr("clip-path", "url(#clip" + i + ")")
    .attr("d", band)
    .attr("fill", "#999999")
    .attr("fill-opacity", 0.4);
  g.append("path").datum(p.fit)
    .attr("d", line)
    .attr("fill", "none")
    .attr("stroke", "#4463c4")
    .attr("stroke-width", 2.4);

  // panel border
  g.append("rect")
    .attr("x", left).attr("y", top)
    .attr("width", panelW).attr("height", bot - top)
    .attr("fill", "none").attr("stroke", "#333").attr("stroke-width", 1.2);

  // strip
  g.append("rect")
    .attr("x", left).attr("y", top - stripH)
    .attr("width", panelW).attr("height", stripH)
    .attr("fill", "#d9d9d9").attr("stroke", "#333").attr("stroke-width", 1.1);
  g.append("text")
    .attr("x", (left + right) / 2).attr("y", top - 8)
    .attr("text-anchor", "middle")
    .attr("font-size", 21)
    .attr("fill", "#1a1a1a")
    .text(panelNames[i]);

  // annotation
  g.append("text")
    .attr("x", right - 11).attr("y", top + 20)
    .attr("text-anchor", "end")
    .attr("font-size", 21)
    .attr("fill", "#e5302a")
    .text(corLabels[i]);
  var pt = g.append("text")
    .attr("x", right - 11).attr("y", top + 44.5)
    .attr("text-anchor", "end")
    .attr("font-size", 21)
    .attr("fill", "#e5302a");
  pt.append("tspan").attr("font-style", "italic").text("p");
  pt.append("tspan").text(" = " + pMantissa[i]);
  pt.append("tspan").attr("font-style", "italic").text("e");
  pt.append("tspan").text("\u2212" + pExponent[i]);

  // x axis
  var fmt = p.labels ? function(d, k) { return p.labels[k]; } : d3.format(".1f");
  var xa = g.append("g")
      .attr("transform", "translate(0," + bot + ")")
      .call(d3.axisBottom(x).tickValues(p.ticks).tickFormat(fmt).tickSize(4.5).tickPadding(7.5));
  xa.select(".domain").remove();
  xa.selectAll("line").attr("stroke", "#333").attr("stroke-width", 1.1);
  xa.selectAll("text").attr("font-family", font).attr("font-size", 19).attr("fill", "#222");
  xa.attr("font-family", null).attr("font-size", null);

  // left strip + y axis on the first column
  if (col === 0) {
    svg.append("rect")
      .attr("x", stadLeft).attr("y", top)
      .attr("width", left - stadLeft).attr("height", bot - top)
      .attr("fill", "#d9d9d9").attr("stroke", "#333").attr("stroke-width", 1.1);
    svg.append("text")
      .attr("transform", "translate(" + (stadLeft + (left - stadLeft) / 2 + 7) + "," + ((top + bot) / 2) + ") rotate(-90)")
      .attr("text-anchor", "middle")
      .attr("font-size", 21)
      .attr("fill", "#1a1a1a")
      .text("STAD");

    var ya = svg.append("g")
        .attr("transform", "translate(" + stadLeft + ",0)")
        .call(d3.axisLeft(y).tickValues(yTicks[row]).tickFormat(d3.format("d")).tickSize(4.5).tickPadding(9));
    ya.select(".domain").remove();
    ya.selectAll("line").attr("stroke", "#333").attr("stroke-width", 1.1);
    ya.selectAll("text").attr("font-family", font).attr("font-size", 19).attr("fill", "#222");
    ya.attr("font-family", null).attr("font-size", null);

    // y axis title
    var yt = svg.append("text")
      .attr("transform", "translate(25," + ((top + bot) / 2) + ") rotate(-90)")
      .attr("text-anchor", "middle")
      .attr("font-size", 21)
      .attr("fill", "#1a1a1a");
    yt.append("tspan").text("AKAP12 expression level (log");
    yt.append("tspan").attr("font-size", 14).attr("dy", 4).text("2");
    yt.append("tspan").attr("dy", -4).text(" TPM)");

    // x axis title
    svg.append("text")
      .attr("x", 625).attr("y", bot + 51)
      .attr("text-anchor", "middle")
      .attr("font-size", 21)
      .attr("fill", "#1a1a1a")
      .text("Infiltration level");
  }
});
</script>
</body>
</html>
